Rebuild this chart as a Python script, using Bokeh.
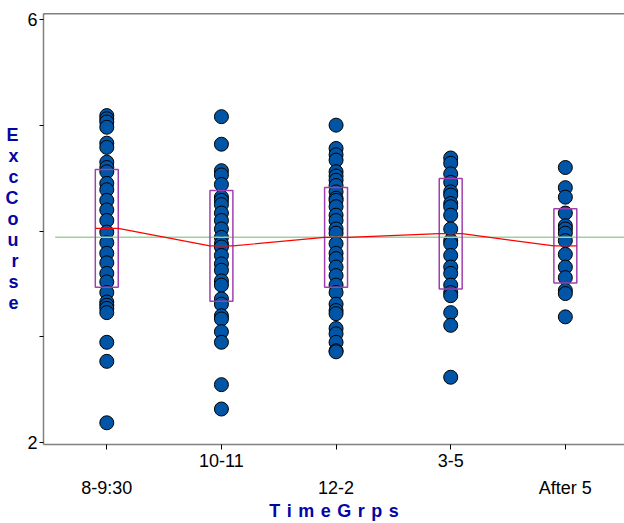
from bokeh.plotting import figure
from bokeh.models import Range1d, LinearAxis, FixedTicker, Span, ColumnDataSource
from bokeh.embed import file_html
from bokeh.resources import INLINE

groups = ["8-9:30", "10-11", "12-2", "3-5", "After 5"]

g0 = [5.09, 5.06, 5.03, 4.98, 4.83, 4.79, 4.65, 4.60, 4.56, 4.45, 4.39, 4.29, 4.20,
      4.10, 3.99, 3.89, 3.79, 3.70, 3.60, 3.52, 3.42, 3.33, 3.30, 3.27, 3.23, 2.95,
      2.77, 2.19]
g1 = [5.08, 4.82, 4.57, 4.53, 4.44, 4.32, 4.29, 4.25, 4.17, 4.10, 4.02, 3.94, 3.88,
      3.85, 3.77, 3.69, 3.63, 3.53, 3.49, 3.36, 3.31, 3.20, 3.17, 3.05, 2.95, 2.55,
      2.32]
g2 = [5.00, 4.78, 4.72, 4.67, 4.56, 4.52, 4.48, 4.43, 4.37, 4.31, 4.29, 4.23, 4.15,
      4.10, 4.02, 3.98, 3.88, 3.79, 3.74, 3.66, 3.58, 3.49, 3.42, 3.31, 3.25, 3.22,
      3.08, 3.03, 2.95, 2.87, 2.86]
g3 = [4.69, 4.64, 4.54, 4.46, 4.37, 4.34, 4.26, 4.23, 4.15, 4.02, 3.91, 3.88, 3.77,
      3.66, 3.60, 3.49, 3.42, 3.39, 3.23, 3.11, 2.62]
g4 = [4.60, 4.41, 4.32, 4.17, 4.05, 4.02, 3.98, 3.91, 3.78, 3.66, 3.56, 3.44, 3.41,
      3.19]

means = [4.025, 3.860, 3.940, 3.975, 3.860]
sds = [0.556, 0.522, 0.471, 0.521, 0.350]
grand_mean = 3.941

y_ticks = [2, 3, 4, 5, 6]
y_tick_labels = {2: "2", 3: "", 4: "", 5: "", 6: "6"}

FONT = "Liberation Sans"
TITLE_COLOR = "#0505A5"

all_groups = [g0, g1, g2, g3, g4]
xs, ys = [], []
for i, g in enumerate(all_groups):
    xs += [i] * len(g)
    ys += g
pts = ColumnDataSource(dict(x=xs, y=ys))

hw = 0.1
box = ColumnDataSource(dict(
    left=[i - hw for i in range(len(groups))],
    right=[i + hw for i in range(len(groups))],
    top=[m + s for m, s in zip(means, sds)],
    bottom=[m - s for m, s in zip(means, sds)],
))
line_x, line_y = [], []
for i, m in enumerate(means):
    line_x += [i - hw, i + hw]
    line_y += [m, m]

p = figure(width=624, height=523, output_backend="svg", toolbar_location=None,
           x_range=Range1d(-0.552, 4.516), y_range=Range1d(1.985, 6.054),
           x_axis_location=None, y_axis_location="left",
           min_border_left=43, min_border_right=0, min_border_top=13,
           min_border_bottom=79)
p.outline_line_color = None
p.grid.visible = False
p.background_fill_color = "white"
p.border_fill_color = "white"

# y axis
ya = p.yaxis[0]
ya.ticker = FixedTicker(ticks=y_ticks)
ya.major_label_overrides = y_tick_labels
ya.major_tick_out = 4
ya.major_tick_in = 0
ya.minor_tick_line_color = None
ya.major_tick_line_color = "black"
ya.axis_line_color = "#808080"
ya.axis_line_width = 1.5
ya.major_label_standoff = 2
ya.major_label_text_font = FONT
ya.major_label_text_font_size = "18px"
ya.major_label_text_color = "black"
ya.axis_label = "E\nx\nc\nC\no\nu\nr\ns\ne\n"
ya.axis_label_orientation = "horizontal"
ya.axis_label_text_font = FONT
ya.axis_label_text_font_style = "bold"
ya.axis_label_text_font_size = "18px"
ya.axis_label_text_line_height = 1.05
ya.axis_label_text_color = TITLE_COLOR
ya.axis_label_standoff = 6

# x axis, upper row of labels
xa1 = LinearAxis(ticker=FixedTicker(ticks=[0, 1, 2, 3, 4]),
                 major_label_overrides={0: "", 1: groups[1], 2: "", 3: groups[3], 4: ""})
xa1.major_tick_out = 5
xa1.major_tick_in = 0
xa1.minor_tick_line_color = None
xa1.major_tick_line_color = "black"
xa1.axis_line_color = "#808080"
xa1.axis_line_width = 1.5
xa1.major_label_standoff = 4
xa1.major_label_text_font = FONT
xa1.major_label_text_font_size = "18px"
xa1.major_label_text_color = "black"

# x axis, lower row of labels + title
xa2 = LinearAxis(ticker=FixedTicker(ticks=[0, 2, 4]),
                 major_label_overrides={0: groups[0], 2: groups[2], 4: groups[4]})
xa2.axis_line_color = None
xa2.major_tick_line_color = None
xa2.minor_tick_line_color = None
xa2.major_tick_out = 0
xa2.major_tick_in = 0
xa2.major_label_standoff = 8
xa2.major_label_text_font = FONT
xa2.major_label_text_font_size = "18px"
xa2.major_label_text_color = "black"
xa2.axis_label = "T\u200a i\u200a m\u200a e\u200a G\u200a r\u200a p\u200a s"
xa2.axis_label_text_font = FONT
xa2.axis_label_text_font_style = "bold"
xa2.axis_label_text_font_size = "18px"
xa2.axis_label_text_color = TITLE_COLOR
xa2.axis_label_standoff = 0

p.add_layout(xa1, "below")
p.add_layout(xa2, "below")

# top border line
p.add_layout(Span(location=6.054, dimension="width", line_color="black", line_width=1.5))

p.scatter("x", "y", source=pts, size=14, fill_color="#0055A6", line_color="black",
          line_width=1)
p.line([-0.45, 4.6], [grand_mean, grand_mean], line_color="#9AD49A", line_width=1.4)
p.quad(left="left", right="right", top="top", bottom="bottom", source=box,
       fill_color=None, line_color="#A040B0", line_width=1.5)
p.line(line_x, line_y, line_color="#FF0000", line_width=1.2)

open("out.html", "w").write(file_html(p, INLINE))
